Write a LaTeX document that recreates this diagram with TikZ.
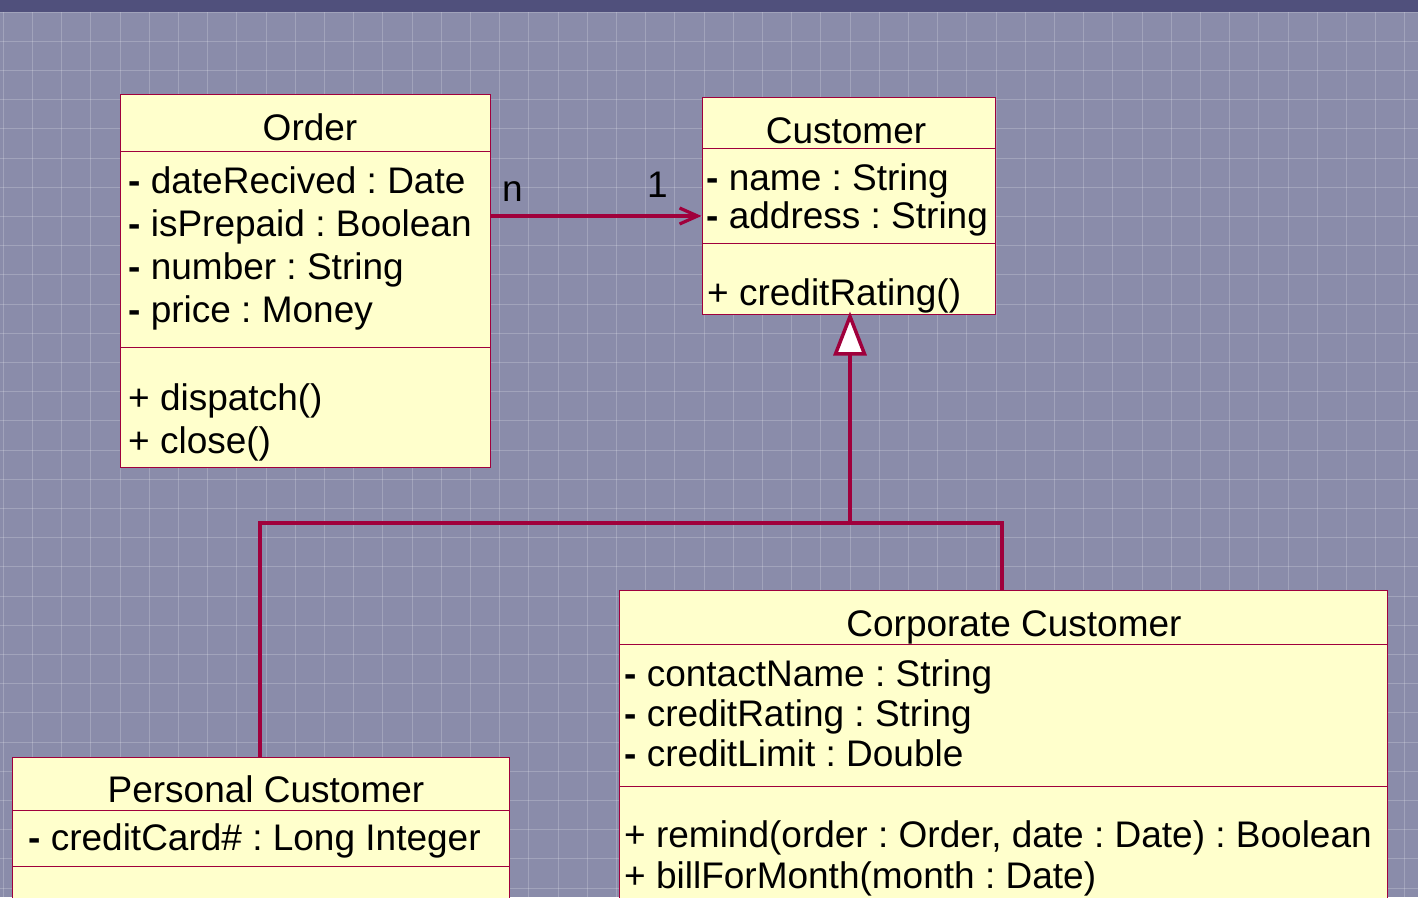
\documentclass[tikz,border=0pt]{standalone}
\usepackage{fontspec}
\setmainfont{Liberation Sans}
\usetikzlibrary{arrows.meta}
\definecolor{bgpurple}{RGB}{138,140,170}
\definecolor{topbar}{RGB}{80,80,124}
\definecolor{umlred}{RGB}{160,0,60}
\definecolor{boxfill}{RGB}{255,255,204}
\frenchspacing

\begin{document}
\begin{tikzpicture}[x=1pt,y=-1pt,
  classbox/.style={draw=umlred, line width=1pt, fill=boxfill, rectangle, inner sep=0pt},
  sepline/.style={draw=umlred, line width=1pt},
  txt/.style={anchor=base west, inner sep=0pt, font=\fontsize{37}{43}\selectfont},
  ttl/.style={anchor=base, inner sep=0pt, font=\fontsize{37}{43}\selectfont},
  link/.style={draw=umlred, line width=3.5pt},
  gridline/.style={draw=white, opacity=0.2, line width=1pt}]

% page and background
\clip (0,0) rectangle (1418,897);
\fill[bgpurple] (0,0) rectangle (1418,897);
\fill[topbar] (0,0) rectangle (1418,12);
\foreach \i in {0,...,48} \draw[gridline] ({3.2+29.2*\i},12) -- ({3.2+29.2*\i},897);
\foreach \j in {0,...,30} \draw[gridline] (0,{12+29.2*\j}) -- (1418,{12+29.2*\j});

% ---- Order ----
\node[classbox, minimum width=370pt, minimum height=373pt] (order) at (305,280.5) {};
\draw[sepline] (120,151) -- (490,151);
\draw[sepline] (120,347) -- (490,347);
\node[ttl] (orderT) at (310,140) {Order};
\node[txt] (orderA1) at (128,193.5) {\textbf{-} dateRecived : Date};
\node[txt] (orderA2) at (128,236.5) {\textbf{-} isPrepaid : Boolean};
\node[txt] (orderA3) at (128,279.5) {\textbf{-} number : String};
\node[txt] (orderA4) at (128,322.5) {\textbf{-} price : Money};
\node[txt] (orderM1) at (128,410) {+ dispatch()};
\node[txt] (orderM2) at (128,453) {+ close()};

% ---- Customer ----
\node[classbox, minimum width=293pt, minimum height=217pt] (customer) at (848.5,205.5) {};
\draw[sepline] (702,148) -- (995,148);
\draw[sepline] (702,243) -- (995,243);
\node[ttl] (custT) at (846,143) {Customer};
\node[txt] (custA1) at (706,190) {\textbf{-} name : String};
\node[txt] (custA2) at (706,228) {\textbf{-} address : String};
\node[txt] (custM1) at (707,305) {+ creditRating()};

% ---- Corporate Customer ----
\node[classbox, minimum width=768pt, minimum height=340pt] (corporate) at (1003,760) {};
\draw[sepline] (619,644) -- (1387,644);
\draw[sepline] (619,786) -- (1387,786);
\node[ttl] (corpT) at (1014,636) {Corporate Customer};
\node[txt] (corpA1) at (624,686) {\textbf{-} contactName : String};
\node[txt] (corpA2) at (624,726) {\textbf{-} creditRating : String};
\node[txt] (corpA3) at (624,766) {\textbf{-} creditLimit : Double};
\node[txt] (corpM1) at (624,847) {+ remind(order : Order, date : Date) : Boolean};
\node[txt] (corpM2) at (624,888) {+ billForMonth(month : Date)};

% ---- Personal Customer ----
\node[classbox, minimum width=497pt, minimum height=173pt] (personal) at (260.5,843.5) {};
\draw[sepline] (12,810) -- (509,810);
\draw[sepline] (12,866) -- (509,866);
\node[ttl] (persT) at (266,802) {Personal Customer};
\node[txt] (persA1) at (28,850) {\textbf{-} creditCard\# : Long Integer};

% ---- association Order -> Customer ----
\coordinate (assoc) at (0,216);
\draw[link, line width=3.2pt, -{Straight Barb[length=18pt,width=16pt]}]
  (order.east |- assoc) -- (customer.west |- assoc);
\node[txt] (multN) at (502,201) {n};
\node[txt] (mult1) at (647,197) {1};

% ---- generalization ----
\coordinate (gen) at (850,523);
\coordinate (corpjoin) at (1002,523);
\coordinate (persjoin) at (260,523);
\draw[link] (corpjoin |- corporate.north) -- (corpjoin) -- (persjoin) -- (persjoin |- personal.north);
\draw[link, shorten >=-3pt, -{Triangle[length=44pt,width=33pt,fill=white]}] (gen) -- (gen |- customer.south);
\end{tikzpicture}
\end{document}
